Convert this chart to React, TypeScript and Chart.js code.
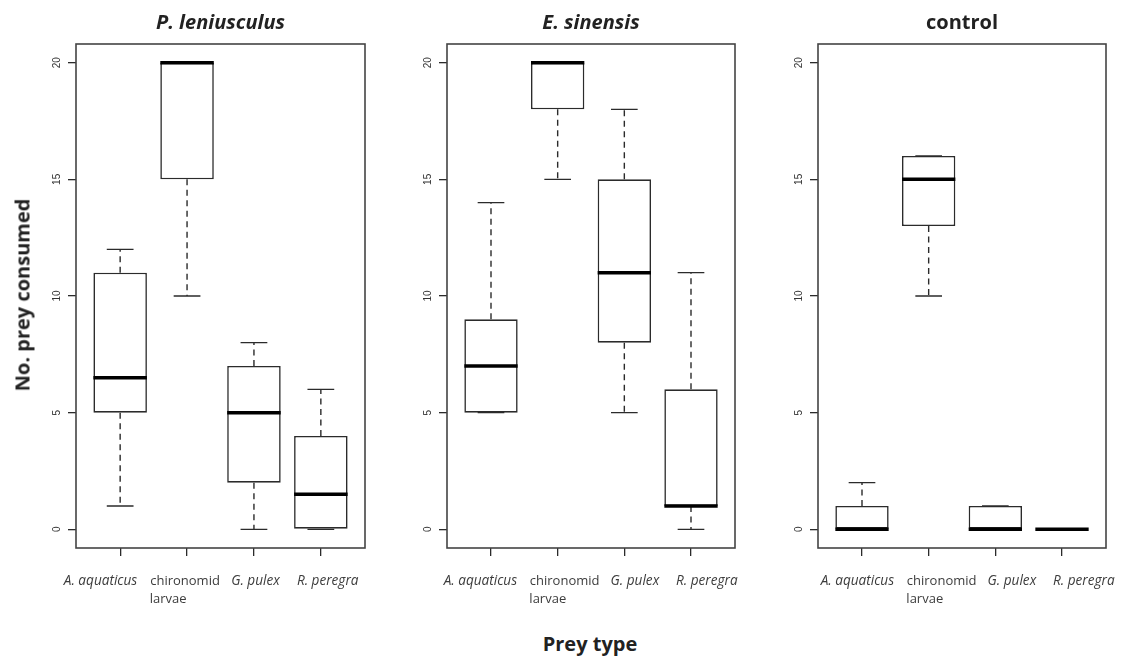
import React, { useEffect, useRef } from 'react';
import { Chart, registerables } from 'chart.js';

Chart.register(...registerables);

const NB = '\u00A0';
const pad = (n: number) => NB.repeat(n);

// Prey categories along each x axis (non-breaking spaces nudge the labels into a tidy row)
const preyTypes: (string | string[])[] = [
  'A. aquaticus' + pad(10),
  ['chironomid', 'larvae' + pad(10)],
  pad(2) + 'G. pulex',
  pad(5) + 'R. peregra',
];
const yTickValues = [0, 5, 10, 15, 20];

// P. leniusculus: five-number summaries per prey type
const plMin = [1, 10, 0, 0];
const plQ1 = [5, 15, 2, 0];
const plMedian = [6.5, 20, 5, 1.5];
const plQ3 = [11, 20, 7, 4];
const plMax = [12, 20, 8, 6];

// E. sinensis
const esMin = [5, 15, 5, 0];
const esQ1 = [5, 18, 8, 1];
const esMedian = [7, 20, 11, 1];
const esQ3 = [9, 20, 15, 6];
const esMax = [14, 20, 18, 11];

// control
const ctMin = [0, 10, 0, 0];
const ctQ1 = [0, 13, 0, 0];
const ctMedian = [0, 15, 0, 0];
const ctQ3 = [1, 16, 1, 0];
const ctMax = [2, 16, 1, 0];

type Stats = {
  title: string;
  italic: boolean;
  min: number[];
  q1: number[];
  median: number[];
  q3: number[];
  max: number[];
};

const BOX_WIDTH = 0.8; // in x-axis units
const CAP_WIDTH = 0.4;
const LINE = '#2b2b2b';

function makeBoxPlugin(s: Stats) {
  return {
    id: 'boxWhiskers',
    afterDatasetsDraw(chart: any) {
      const { ctx, chartArea } = chart;
      const xs = chart.scales.x;
      const ys = chart.scales.y;
      ctx.save();
      s.median.forEach((med, i) => {
        const xv = i + 1;
        const cx = xs.getPixelForValue(xv);
        const capL = xs.getPixelForValue(xv - CAP_WIDTH / 2);
        const capR = xs.getPixelForValue(xv + CAP_WIDTH / 2);
        const boxL = xs.getPixelForValue(xv - BOX_WIDTH / 2);
        const boxR = xs.getPixelForValue(xv + BOX_WIDTH / 2);
        const pMin = ys.getPixelForValue(s.min[i]);
        const pMax = ys.getPixelForValue(s.max[i]);
        const pQ1 = ys.getPixelForValue(s.q1[i]);
        const pQ3 = ys.getPixelForValue(s.q3[i]);
        const pMed = ys.getPixelForValue(med);

        ctx.strokeStyle = LINE;
        ctx.lineWidth = 1.4;
        // dashed whiskers
        ctx.setLineDash([6, 4.5]);
        ctx.beginPath();
        if (s.max[i] > s.q3[i]) {
          ctx.moveTo(cx, pQ3);
          ctx.lineTo(cx, pMax);
        }
        if (s.min[i] < s.q1[i]) {
          ctx.moveTo(cx, pQ1);
          ctx.lineTo(cx, pMin);
        }
        ctx.stroke();
        // whisker caps
        ctx.setLineDash([]);
        ctx.beginPath();
        ctx.moveTo(capL, pMax);
        ctx.lineTo(capR, pMax);
        ctx.moveTo(capL, pMin);
        ctx.lineTo(capR, pMin);
        ctx.stroke();
        // median
        ctx.strokeStyle = '#000';
        ctx.lineWidth = 3.5;
        ctx.lineCap = 'butt';
        ctx.beginPath();
        ctx.moveTo(boxL, pMed);
        ctx.lineTo(boxR, pMed);
        ctx.stroke();
      });
      // plot frame
      ctx.strokeStyle = '#444';
      ctx.lineWidth = 1.6;
      ctx.strokeRect(
        chartArea.left,
        chartArea.top,
        chartArea.right - chartArea.left,
        chartArea.bottom - chartArea.top
      );
      // panel title
      ctx.fillStyle = '#222';
      ctx.font = `${s.italic ? 'italic ' : ''}bold 20px "Open Sans"`;
      ctx.textAlign = 'center';
      ctx.textBaseline = 'middle';
      ctx.fillText(s.title, (chartArea.left + chartArea.right) / 2, 23.5);
      ctx.restore();
    },
  };
}

const CANVAS_H = 620;
const Y_AXIS_W = 60;
const RIGHT_PAD = 15;

function BoxPanel({
  stats,
  plotLeft,
  plotWidth,
  labelShift,
}: {
  stats: Stats;
  plotLeft: number;
  plotWidth: number;
  labelShift: number;
}) {
  const ref = useRef<HTMLCanvasElement>(null);
  const width = plotWidth + Y_AXIS_W + RIGHT_PAD;

  useEffect(() => {
    if (!ref.current) return;
    const chart = new Chart(ref.current, {
      type: 'bar',
      data: {
        datasets: [
          {
            data: stats.q1.map((v, i) => ({ x: i + 1, y: [v, stats.q3[i]] })) as any,
            backgroundColor: '#ffffff',
            borderColor: LINE,
            borderWidth: 1.6,
            borderSkipped: false,
            barPercentage: BOX_WIDTH,
            categoryPercentage: 1,
          },
        ],
      },
      options: {
        responsive: false,
        animation: false,
        events: [],
        layout: { padding: { top: 44, right: RIGHT_PAD, left: 0, bottom: 0 } },
        plugins: { legend: { display: false }, tooltip: { enabled: false }, title: { display: false } },
        scales: {
          x: {
            type: 'linear',
            min: 0.34,
            max: 4.66,
            offset: false,
            afterBuildTicks: (s: any) => {
              s.ticks = preyTypes.map((_, i) => ({ value: i + 1 }));
            },
            afterFit: (s: any) => {
              s.height = CANVAS_H - 548;
            },
            grid: {
              offset: false,
              drawOnChartArea: false,
              drawTicks: true,
              tickLength: 8,
              color: LINE,
              lineWidth: 1.3,
            },
            border: { display: false },
            ticks: {
              autoSkip: false,
              maxRotation: 0,
              minRotation: 0,
              padding: 16,
              labelOffset: labelShift,
              color: '#3c3c3c',
              callback: (v: any) => preyTypes[Number(v) - 1],
              font: (c: any) => ({
                family: '"Open Sans"',
                size: c.index === 1 ? 13 : 13.6,
                style: c.index === 1 ? 'normal' : 'italic',
                lineHeight: 1.4,
              }),
            },
          },
          y: {
            type: 'linear',
            min: -0.8,
            max: 20.8,
            afterBuildTicks: (s: any) => {
              s.ticks = yTickValues.map((v) => ({ value: v }));
            },
            afterFit: (s: any) => {
              s.width = Y_AXIS_W;
            },
            grid: {
              drawOnChartArea: false,
              drawTicks: true,
              tickLength: 8,
              color: LINE,
              lineWidth: 1.3,
            },
            border: { display: false },
            ticks: {
              minRotation: 90,
              maxRotation: 90,
              crossAlign: 'center',
              padding: 5,
              color: '#333',
              font: { family: '"Liberation Sans"', size: 10 },
            },
          },
        },
      } as any,
      plugins: [makeBoxPlugin(stats)],
    });
    return () => chart.destroy();
  }, []);

  return (
    <canvas
      ref={ref}
      width={width}
      height={CANVAS_H}
      style={{ position: 'absolute', left: plotLeft - Y_AXIS_W, top: 0, width, height: CANVAS_H }}
    />
  );
}

const panels: { stats: Stats; left: number; width: number; labelShift: number }[] = [
  {
    stats: { title: 'P. leniusculus', italic: true, min: plMin, q1: plQ1, median: plMedian, q3: plQ3, max: plMax },
    left: 76,
    width: 289,
    labelShift: -2,
  },
  {
    stats: { title: 'E. sinensis', italic: true, min: esMin, q1: esQ1, median: esMedian, q3: esQ3, max: esMax },
    left: 447,
    width: 288,
    labelShift: 7,
  },
  {
    stats: { title: 'control', italic: false, min: ctMin, q1: ctQ1, median: ctMedian, q3: ctQ3, max: ctMax },
    left: 818,
    width: 288,
    labelShift: 13,
  },
];

export default function App() {
  return (
    <div
      style={{
        position: 'absolute',
        left: 0,
        top: 0,
        width: 1125,
        height: 657,
        overflow: 'hidden',
        background: '#fff',
      }}
    >
      {panels.map((p) => (
        <BoxPanel
          key={p.stats.title}
          stats={p.stats}
          plotLeft={p.left}
          plotWidth={p.width}
          labelShift={p.labelShift}
        />
      ))}
      <div
        style={{
          position: 'absolute',
          left: 21.5,
          top: 294.5,
          transform: 'translate(-50%, -50%) rotate(-90deg)',
          whiteSpace: 'nowrap',
          font: 'bold 20px "Open Sans"',
          color: '#222',
        }}
      >
        No. prey consumed
      </div>
      <div
        style={{
          position: 'absolute',
          left: 590,
          top: 643,
          transform: 'translate(-50%, -50%)',
          whiteSpace: 'nowrap',
          font: 'bold 20px "Open Sans"',
          color: '#222',
        }}
      >
        Prey type
      </div>
    </div>
  );
}
